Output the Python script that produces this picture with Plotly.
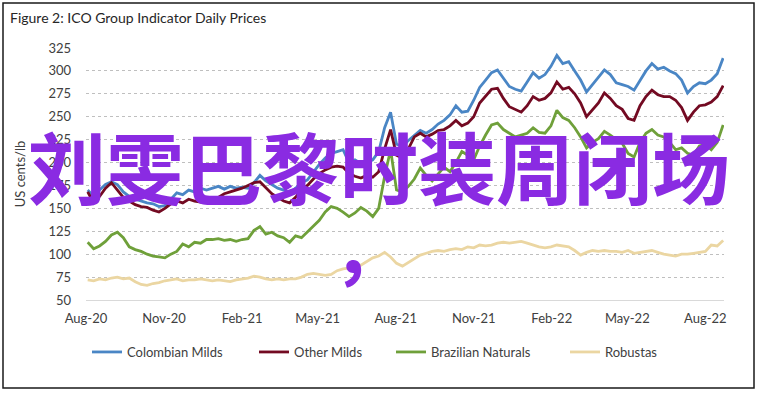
import pandas as pd
import plotly.graph_objects as go

# ---- data (weekly readings, US cents/lb) ----
week_start = "2020-08-03"
n_weeks = 108

colombian_milds = [
    170, 163, 170, 176, 179, 176, 168, 163, 160, 158, 156, 155, 152, 153, 160, 167, 165, 170, 168, 172,
    170, 172, 174, 171, 174, 172, 173, 172, 178, 186, 180, 176, 172, 170, 167, 172, 178, 181, 190, 198,
    205, 210, 212, 214, 200, 203, 199, 200, 203, 212, 238, 255, 220, 218, 224, 230, 235, 232, 236, 242,
    246, 252, 262, 255, 256, 268, 282, 290, 298, 301, 292, 283, 280, 278, 288, 298, 292, 296, 305, 317,
    308, 310, 300, 290, 277, 285, 292, 301, 296, 287, 285, 283, 279, 290, 300, 308, 302, 304, 300, 297,
    290, 276, 283, 287, 286, 290, 297, 314,
]
other_milds = [
    168, 156, 163, 172, 178, 170, 162, 158, 154, 152, 151, 148, 146, 150, 155, 158, 156, 160, 158, 157,
    160, 158, 162, 166, 168, 170, 172, 175, 178, 179, 172, 166, 162, 158, 156, 162, 170, 175, 182, 188,
    192, 195, 196, 195, 188, 185, 183, 186, 184, 190, 215, 236, 208, 205, 215, 228, 232, 228, 231, 235,
    236, 240, 246, 240, 243, 250, 265, 272, 280, 281, 270, 261, 258, 255, 262, 272, 268, 270, 276, 288,
    280, 282, 275, 265, 250, 258, 265, 276, 270, 262, 258, 248, 246, 262, 272, 279, 274, 272, 272, 268,
    260, 246, 255, 262, 263, 266, 272, 284,
]
brazilian_naturals = [
    113, 106, 109, 114, 121, 124, 118, 108, 105, 103, 100, 98, 97, 96, 100, 103, 111, 108, 113, 112,
    116, 116, 117, 115, 116, 114, 116, 117, 126, 130, 122, 124, 120, 118, 113, 120, 118, 124, 130, 137,
    146, 152, 150, 146, 141, 145, 151, 147, 141, 150, 185, 214, 170, 168, 174, 182, 194, 186, 180, 187,
    195, 190, 200, 212, 208, 203, 218, 230, 241, 243, 236, 232, 228, 230, 232, 238, 233, 232, 240, 257,
    249, 246, 238, 228, 216, 222, 226, 234, 230, 225, 221, 210, 206, 222, 232, 236, 230, 228, 222, 214,
    216, 210, 208, 218, 220, 214, 222, 241,
]
robustas = [
    72, 71, 73, 72, 74, 75, 73, 74, 70, 67, 66, 68, 69, 71, 72, 73, 71, 72, 72, 73,
    72, 71, 72, 71, 70, 72, 73, 74, 76, 75, 73, 72, 73, 72, 73, 73, 75, 78, 79, 78,
    77, 78, 82, 84, 85, 86, 88, 92, 96, 98, 102, 97, 90, 87, 91, 95, 99, 101, 103, 104,
    103, 105, 106, 105, 108, 107, 110, 109, 110, 112, 113, 112, 113, 114, 112, 110, 108, 107, 108, 110,
    109, 108, 104, 99, 102, 104, 103, 104, 103, 103, 102, 104, 101, 102, 103, 104, 102, 100, 99, 98,
    100, 100, 101, 102, 103, 110, 109, 115,
]

series_names = ["Colombian Milds", "Other Milds", "Brazilian Naturals", "Robustas"]
series_colors = ["#4A86C5", "#730A22", "#6FA03A", "#EBD6A2"]

x_tick_dates = ["2020-08-01", "2020-11-01", "2021-02-01", "2021-05-01", "2021-08-01",
                "2021-11-01", "2022-02-01", "2022-05-01", "2022-08-01"]
x_tick_labels = ["Aug-20", "Nov-20", "Feb-21", "May-21", "Aug-21",
                 "Nov-21", "Feb-22", "May-22", "Aug-22"]
y_ticks = [50, 75, 100, 125, 150, 175, 200, 225, 250, 275, 300, 325]

title_text = "Figure 2: ICO Group Indicator Daily Prices"
y_title = "US cents/lb"
overlay_text = "刘雯巴黎时装周闭场"
overlay_comma = "，"

dates = pd.date_range(week_start, periods=n_weeks, freq="7D")
all_values = [colombian_milds, other_milds, brazilian_naturals, robustas]

FONT = "Lato, 'Liberation Sans', sans-serif"
W, H = 758, 393
L, R, T, B = 86, 34, 48, 93

fig = go.Figure()
legend_ids = ["legend", "legend2", "legend3", "legend4"]
legend_left_px = [87, 254, 391, 565]
for name, vals, col, lid in zip(series_names, all_values, series_colors, legend_ids):
    fig.add_trace(go.Scatter(
        x=dates, y=vals, name=name, mode="lines",
        line=dict(color=col, width=2.8), legend=lid,
    ))

legend_common = dict(
    orientation="h", xref="container", yref="container",
    xanchor="left", yanchor="middle", y=1 - 352 / H,
    bgcolor="rgba(0,0,0,0)", borderwidth=0,
    font=dict(family=FONT, size=13, color="#404040"),
    itemwidth=30,
)
legends = {}
for lid, lx in zip(legend_ids, legend_left_px):
    legends[lid] = dict(legend_common, x=lx / W)

pw = W - L - R
ph = H - T - B
def px_x(p):
    return (p - L) / pw
def px_y(p):
    return (H - B - p) / ph

fig.update_layout(
    width=W, height=H,
    margin=dict(l=L, r=R, t=T, b=B, autoexpand=False),
    paper_bgcolor="white", plot_bgcolor="white",
    showlegend=True,
    font=dict(family=FONT, size=13, color="#404040"),
    xaxis=dict(
        type="date",
        range=["2020-08-01", "2022-08-23"],
        tickvals=x_tick_dates, ticktext=x_tick_labels,
        showgrid=False, zeroline=False,
        showline=True, linecolor="#D9D9D9", linewidth=1,
        ticks="", ticklabelstandoff=6,
        tickfont=dict(family=FONT, size=13, color="#404040"),
        fixedrange=True, automargin=False,
    ),
    yaxis=dict(
        range=[50, 325],
        tickvals=y_ticks,
        showgrid=True, gridcolor="#BFBFBF", gridwidth=1, griddash="dot",
        zeroline=False, showline=False,
        ticks="", ticklabelstandoff=14,
        tickfont=dict(family=FONT, size=13, color="#404040"),
        title=dict(text=y_title, font=dict(family=FONT, size=13, color="#404040"), standoff=19),
        fixedrange=True, automargin=False,
    ),
    annotations=[
        dict(text=title_text, xref="paper", yref="paper",
             x=px_x(8), y=px_y(17), xanchor="left", yanchor="middle",
             showarrow=False, font=dict(family=FONT, size=14, color="#262626")),
        dict(text=overlay_text, xref="paper", yref="paper",
             x=px_x(379), y=px_y(165), xanchor="center", yanchor="middle",
             showarrow=False,
             font=dict(family="'Noto Sans CJK SC'", size=78, color="#8A2BE2", weight="bold")),
        dict(text=overlay_comma, xref="paper", yref="paper",
             x=px_x(331), y=px_y(245), xanchor="left", yanchor="middle",
             showarrow=False,
             font=dict(family="'Noto Sans CJK SC'", size=72, color="#8A2BE2", weight="bold")),
    ],
    shapes=[
        dict(type="rect", xref="paper", yref="paper",
             x0=px_x(3), x1=px_x(754), y0=px_y(3), y1=px_y(388),
             line=dict(color="#1A1A1A", width=1.5), layer="below"),
    ],
    **legends,
)

fig.write_html(
    "out.html",
    config={"displayModeBar": False},
    post_script="document.body.style.margin='0px';document.body.style.padding='0px';",
)
